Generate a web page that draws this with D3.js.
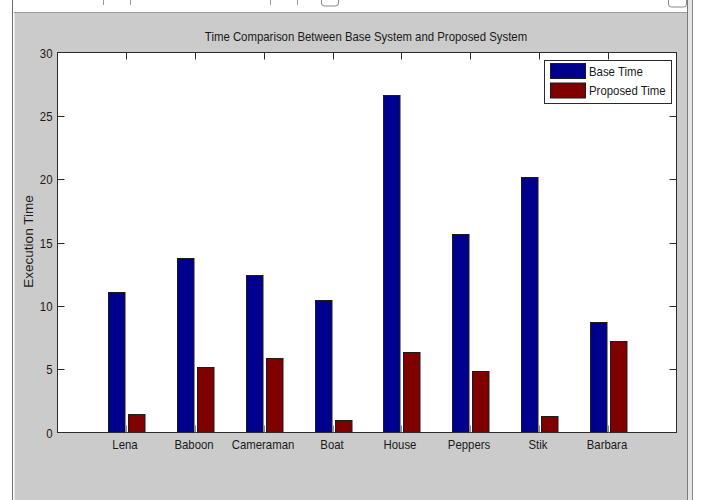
<!DOCTYPE html>
<html>
<head>
<meta charset="utf-8">
<script src="https://cdn.jsdelivr.net/npm/d3@7"></script>
<style>
  html, body { margin: 0; padding: 0; background: #fff; }
  svg { display: block; }
  text { font-family: "Liberation Sans", Arial, sans-serif; fill: #1a1a1a; }
</style>
</head>
<body>
<svg id="fig" width="701" height="500"></svg>
<script>
// Images tested and their execution times (seconds)
const categories = ["Lena", "Baboon", "Cameraman", "Boat", "House", "Peppers", "Stik", "Barbara"];
const baseTime = [11.1, 13.75, 12.45, 10.45, 26.65, 15.7, 20.15, 8.7];
const proposedTime = [1.5, 5.15, 5.85, 1.0, 6.35, 4.85, 1.3, 7.2];
const seriesNames = ["Base Time", "Proposed Time"];
const seriesColors = ["#00008F", "#800000"];
const yTicks = [0, 5, 10, 15, 20, 25, 30];

(function () {
const svg = d3.select("#fig");
const W = 701, H = 500;

// Slightly condensed text, like the figure's UI font
function label(parent, px, py, str, size, anchor, rot, sx) {
  const k = sx === undefined ? 0.95 : sx;
  return parent.append("text")
    .attr("transform", `translate(${px},${py})` + (rot ? ` rotate(${rot})` : "") + ` scale(${k},1)`)
    .attr("text-anchor", anchor || "start")
    .attr("font-size", size)
    .text(str);
}

// Window frame and grey figure background
svg.append("rect").attr("x", 0).attr("y", 0).attr("width", W).attr("height", H).attr("fill", "#ffffff");
svg.append("rect").attr("x", 14).attr("y", 13).attr("width", 673).attr("height", H - 13).attr("fill", "#cbcbcb");
svg.append("line").attr("x1", 14).attr("x2", 687).attr("y1", 12.5).attr("y2", 12.5).attr("stroke", "#9a9a9a");
svg.append("line").attr("x1", 12.5).attr("x2", 12.5).attr("y1", 0).attr("y2", H).attr("stroke", "#6e6e6e");
svg.append("line").attr("x1", 14.5).attr("x2", 14.5).attr("y1", 13).attr("y2", H).attr("stroke", "#e6e6e6");
svg.append("line").attr("x1", 687.5).attr("x2", 687.5).attr("y1", 0).attr("y2", H).attr("stroke", "#7a7a7a");
svg.append("rect").attr("x", 688).attr("y", 0).attr("width", 4).attr("height", H).attr("fill", "#e4e4e4");
svg.append("line").attr("x1", 692.5).attr("x2", 692.5).attr("y1", 0).attr("y2", H).attr("stroke", "#8a8a8a");
// toolbar remnants along the top edge
[[103, 0, 103, 5], [130, 0, 130, 5], [270, 0, 270, 5], [297, 0, 297, 5]].forEach(d =>
  svg.append("line").attr("x1", d[0] + 0.5).attr("x2", d[2] + 0.5).attr("y1", d[1]).attr("y2", d[3]).attr("stroke", "#9a9a9a"));
svg.append("rect").attr("x", 321.5).attr("y", -6).attr("width", 17).attr("height", 12).attr("rx", 3)
  .attr("fill", "none").attr("stroke", "#8a8a8a");
svg.append("rect").attr("x", 668.5).attr("y", -6).attr("width", 18).attr("height", 13).attr("rx", 3)
  .attr("fill", "none").attr("stroke", "#8a8a8a");

// Axes geometry
const pLeft = 57.5, pRight = 676.5, pTop = 52.5, pBottom = 432.5;
const x = d3.scaleLinear().domain([0, categories.length + 1]).range([pLeft, pRight]);
const y = d3.scaleLinear().domain([0, 30]).range([pBottom, pTop]);

svg.append("rect").attr("x", pLeft).attr("y", pTop).attr("width", pRight - pLeft).attr("height", pBottom - pTop)
  .attr("fill", "#ffffff");

// Bars
const bw = 16.5;
const groups = svg.append("g");
categories.forEach((c, i) => {
  const cx = x(i + 1);
  [baseTime[i], proposedTime[i]].forEach((v, s) => {
    const x0 = s === 0 ? cx - 1.5 - bw : cx + 2;
    groups.append("rect")
      .attr("x", Math.round(x0) + 0.5)
      .attr("y", Math.round(y(v)) + 0.5)
      .attr("width", bw)
      .attr("height", Math.max(0, pBottom - Math.round(y(v)) - 0.5))
      .attr("fill", seriesColors[s])
      .attr("stroke", "#1c1c1c")
      .attr("stroke-width", 1);
  });
});

// Axis box with inward ticks on all sides
const tickLen = 7;
const axisColor = "#2b2b2b";
const ax = svg.append("g");
ax.append("rect").attr("x", pLeft).attr("y", pTop).attr("width", pRight - pLeft).attr("height", pBottom - pTop)
  .attr("fill", "none").attr("stroke", axisColor).attr("stroke-width", 1);

yTicks.forEach(t => {
  const yy = Math.round(y(t)) + 0.5;
  if (t !== 0 && t !== 30) {
    ax.append("line").attr("x1", pLeft).attr("x2", pLeft + tickLen).attr("y1", yy).attr("y2", yy).attr("stroke", axisColor);
    ax.append("line").attr("x1", pRight - tickLen).attr("x2", pRight).attr("y1", yy).attr("y2", yy).attr("stroke", axisColor);
  }
  label(ax, pLeft - 5, yy + 4.5, t, 12, "end");
});

categories.forEach((c, i) => {
  const xx = Math.round(x(i + 1)) + 0.5;
  ax.append("line").attr("x1", xx).attr("x2", xx).attr("y1", pTop).attr("y2", pTop + tickLen).attr("stroke", axisColor);
  ax.append("line").attr("x1", xx).attr("x2", xx).attr("y1", pBottom - tickLen).attr("y2", pBottom).attr("stroke", "#8c8c8c");
  label(ax, xx - 1.5, pBottom + 16, c, 12, "middle");
});

// Title and y-axis label
label(svg, (pLeft + pRight) / 2 - 1, 41, "Time Comparison Between Base System and Proposed System", 12, "middle");
label(svg, 33, (pTop + pBottom) / 2 - 1, "Execution Time", 13, "middle", -90, 1.04);

// Legend
const lg = svg.append("g").attr("transform", "translate(544.5,60.5)");
lg.append("rect").attr("width", 127).attr("height", 43).attr("fill", "#ffffff").attr("stroke", axisColor);
seriesNames.forEach((n, s) => {
  lg.append("rect").attr("x", 6).attr("y", 3 + s * 19.5).attr("width", 35).attr("height", 15)
    .attr("fill", seriesColors[s]).attr("stroke", "#1c1c1c");
  label(lg, 44.5, 15 + s * 19.5, n, 12, "start");
});
})();
</script>
</body>
</html>
